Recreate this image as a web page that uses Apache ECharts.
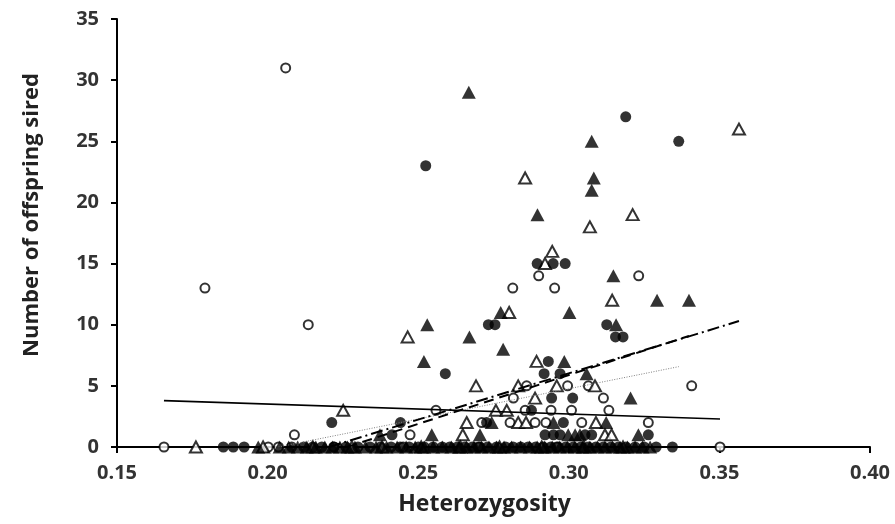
<!DOCTYPE html>
<html>
<head>
<meta charset="utf-8">
<title>Offspring sired vs heterozygosity</title>
<script src="https://cdn.jsdelivr.net/npm/echarts@6/dist/echarts.min.js"></script>
<style>
  html, body { margin: 0; padding: 0; background: #fff; }
  #chart { width: 895px; height: 524px; }
</style>
</head>
<body>
<div id="chart"></div>
<script>
// Filled circles
var fcX = [0.2525, 0.3189, 0.3365, 0.2895, 0.2948, 0.2988, 0.2733, 0.2755, 0.3126, 0.3155, 0.3180,
           0.2932, 0.2590, 0.2918, 0.2971, 0.2943, 0.3013, 0.2876, 0.2213, 0.2441, 0.2727, 0.2982,
           0.2921, 0.2949, 0.2971, 0.3054, 0.3076, 0.3264, 0.2413,
           0.1853, 0.1886, 0.1922, 0.2080, 0.2120, 0.2150, 0.2180, 0.2220, 0.2260, 0.2300, 0.2340,
           0.2375, 0.2410, 0.2440, 0.2470, 0.2500, 0.2520, 0.2550, 0.2580, 0.2605, 0.2630, 0.2655,
           0.2680, 0.2705, 0.2730, 0.2760, 0.2790, 0.2815, 0.2840, 0.2865, 0.2890, 0.2915, 0.2940,
           0.2965, 0.2990, 0.3015, 0.3040, 0.3065, 0.3090, 0.3115, 0.3140, 0.3165, 0.3190, 0.3220,
           0.3250, 0.3290, 0.3344];
var fcY = [23, 27, 25, 15, 15, 15, 10, 10, 10, 9, 9,
           7, 6, 6, 6, 4, 4, 3, 2, 2, 2, 2,
           1, 1, 1, 1, 1, 1, 1,
           0, 0, 0, 0, 0, 0, 0, 0, 0, 0, 0,
           0, 0, 0, 0, 0, 0, 0, 0, 0, 0, 0,
           0, 0, 0, 0, 0, 0, 0, 0, 0, 0, 0,
           0, 0, 0, 0, 0, 0, 0, 0, 0, 0, 0,
           0, 0, 0];

// Open circles
var ocX = [0.2060, 0.1792, 0.2135, 0.2900, 0.3232, 0.2814, 0.2953, 0.2860, 0.2996, 0.3065, 0.3408,
           0.2816, 0.3115, 0.2559, 0.2855, 0.2941, 0.3009, 0.3133,
           0.2711, 0.2805, 0.2888, 0.2924, 0.3043, 0.3264, 0.2089, 0.2473,
           0.1656, 0.2002, 0.2036, 0.2220, 0.2450, 0.2700, 0.2960, 0.3502];
var ocY = [31, 13, 10, 14, 14, 13, 13, 5, 5, 5, 5,
           4, 4, 3, 3, 3, 3, 3,
           2, 2, 2, 2, 2, 2, 1, 1,
           0, 0, 0, 0, 0, 0, 0, 0];

// Filled triangles
var ftX = [0.2668, 0.3076, 0.3083, 0.3076, 0.2896, 0.3148, 0.3293, 0.3399, 0.3002, 0.2774, 0.3157,
           0.2530, 0.2670, 0.2782, 0.2519, 0.2985, 0.3059, 0.3205, 0.2744, 0.2949, 0.3124,
           0.2545, 0.2705, 0.2998, 0.3021, 0.3037, 0.3231, 0.2373,
           0.1969, 0.2040, 0.2070, 0.2100, 0.2130, 0.2160, 0.2190, 0.2215, 0.2240, 0.2265, 0.2290,
           0.2325, 0.2360, 0.2395, 0.2430, 0.2460, 0.2490, 0.2520, 0.2550, 0.2580, 0.2610, 0.2635,
           0.2660, 0.2685, 0.2710, 0.2735, 0.2760, 0.2785, 0.2810, 0.2840, 0.2870, 0.2895, 0.2920,
           0.2945, 0.2970, 0.2995, 0.3020, 0.3045, 0.3070, 0.3095, 0.3120, 0.3145, 0.3170, 0.3195,
           0.3220, 0.3245, 0.3270];
var ftY = [29, 25, 22, 21, 19, 14, 12, 12, 11, 11, 10,
           10, 9, 8, 7, 7, 6, 4, 2, 2, 2,
           1, 1, 1, 1, 1, 1, 1,
           0, 0, 0, 0, 0, 0, 0, 0, 0, 0, 0,
           0, 0, 0, 0, 0, 0, 0, 0, 0, 0, 0,
           0, 0, 0, 0, 0, 0, 0, 0, 0, 0, 0,
           0, 0, 0, 0, 0, 0, 0, 0, 0, 0, 0,
           0, 0, 0];

// Open triangles
var otX = [0.3565, 0.2855, 0.3212, 0.3070, 0.2945, 0.2921, 0.3144, 0.2802, 0.2465, 0.2893,
           0.2692, 0.2832, 0.2960, 0.3087, 0.2888, 0.2251, 0.2758, 0.2794,
           0.2661, 0.2832, 0.2858, 0.3090, 0.2648, 0.3120, 0.3142,
           0.1762, 0.1985, 0.2150, 0.2280, 0.2380, 0.2510, 0.2640, 0.2770, 0.2910, 0.3050, 0.3180];
var otY = [26, 22, 19, 18, 16, 15, 12, 11, 9, 7,
           5, 5, 5, 5, 4, 3, 3, 3,
           2, 2, 2, 2, 1, 1, 1,
           0, 0, 0, 0, 0, 0, 0, 0, 0, 0, 0];

// Fitted trend lines: [x, y] at each end
var trendOpenCircles   = [[0.1656, 3.79], [0.3502, 2.29]];
var trendFilledCircles = [[0.2036, 0.0], [0.3365, 6.57]];
var trendFilledTri     = [[0.2264, 0.0], [0.3399, 9.08]];
var trendOpenTri       = [[0.2204, 0.0], [0.3565, 10.3]];

var xTicks = { min: 0.15, max: 0.40, interval: 0.05 };
var yTicks = { min: 0, max: 35, interval: 5 };

function pairs(xs, ys) {
  return xs.map(function (x, i) { return [x, ys[i]]; });
}

var labelFont = { fontFamily: 'Open Sans', fontWeight: 'bold', fontSize: 20, color: '#333333' };

var chart = echarts.init(document.getElementById('chart'), null, { renderer: 'canvas' });

chart.setOption({
  animation: false,
  backgroundColor: '#ffffff',
  grid: { left: 117, right: 25, top: 19, bottom: 77 },
  xAxis: {
    type: 'value',
    min: xTicks.min, max: xTicks.max, interval: xTicks.interval,
    name: 'Heterozygosity',
    nameLocation: 'middle',
    nameGap: 46,
    nameTextStyle: { fontFamily: 'Open Sans', fontWeight: 'bold', fontSize: 23, color: '#222222', padding: [0, 18, 0, 0] },
    axisLine: { show: true, onZero: false, lineStyle: { color: '#000', width: 2 } },
    axisTick: { show: true, inside: false, length: 6, lineStyle: { color: '#000', width: 2 } },
    axisLabel: Object.assign({ margin: 16, formatter: function (v) { return v.toFixed(2); } }, labelFont),
    splitLine: { show: false }
  },
  yAxis: {
    type: 'value',
    min: yTicks.min, max: yTicks.max, interval: yTicks.interval,
    name: 'Number of offspring sired',
    nameLocation: 'middle',
    nameRotate: 90,
    nameGap: 74,
    nameTextStyle: { fontFamily: 'Open Sans', fontWeight: 'bold', fontSize: 22, color: '#222222', padding: [0, 0, 0, 36] },
    axisLine: { show: true, lineStyle: { color: '#000', width: 2 } },
    axisTick: { show: true, inside: false, length: 6, lineStyle: { color: '#000', width: 2 } },
    axisLabel: Object.assign({ margin: 18 }, labelFont),
    splitLine: { show: false }
  },
  series: [
    {
      name: 'Open circles', type: 'scatter', clip: false,
      symbol: 'circle', symbolSize: 9,
      itemStyle: { color: '#fff', borderColor: '#000', borderWidth: 2 },
      data: pairs(ocX, ocY)
    },
    {
      name: 'Open triangles', type: 'scatter', clip: false,
      symbol: 'triangle', symbolSize: [12, 11],
      itemStyle: { color: '#fff', borderColor: '#000', borderWidth: 2 },
      data: pairs(otX, otY)
    },
    {
      name: 'Filled circles', type: 'scatter', clip: false,
      symbol: 'circle', symbolSize: 11,
      itemStyle: { color: '#000' },
      data: pairs(fcX, fcY)
    },
    {
      name: 'Filled triangles', type: 'scatter', clip: false,
      symbol: 'triangle', symbolSize: [14, 13],
      itemStyle: { color: '#000' },
      data: pairs(ftX, ftY)
    },
    {
      name: 'Trend open circles', type: 'line', showSymbol: false, symbol: 'none',
      lineStyle: { color: '#000', width: 1.6, type: 'solid' },
      data: trendOpenCircles, z: 5
    },
    {
      name: 'Trend filled circles', type: 'line', showSymbol: false, symbol: 'none',
      lineStyle: { color: '#808080', width: 1, type: [1, 1.5] },
      data: trendFilledCircles, z: 5
    },
    {
      name: 'Trend filled triangles', type: 'line', showSymbol: false, symbol: 'none',
      lineStyle: { color: '#000', width: 2, type: [10, 6] },
      data: trendFilledTri, z: 5
    },
    {
      name: 'Trend open triangles', type: 'line', showSymbol: false, symbol: 'none',
      lineStyle: { color: '#000', width: 2, type: [12, 4, 2, 4] },
      data: trendOpenTri, z: 5
    }
  ]
});
</script>
</body>
</html>
